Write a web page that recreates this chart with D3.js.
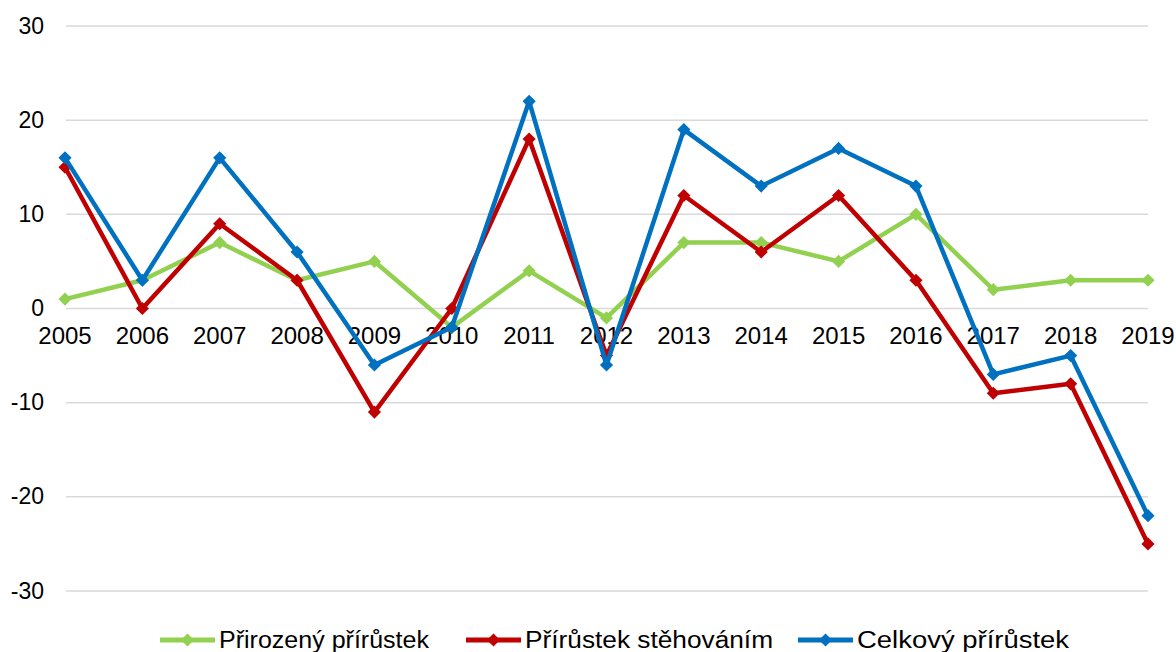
<!DOCTYPE html>
<html><head><meta charset="utf-8">
<script src="https://cdn.jsdelivr.net/npm/d3@7"></script>
<style>body{margin:0;background:#fff}svg{display:block}text{font-family:"Liberation Sans",Arial,sans-serif;fill:#000}</style>
</head><body><svg id="c" width="1176" height="652"></svg>
<script>
const years = ["2005","2006","2007","2008","2009","2010","2011","2012","2013","2014","2015","2016","2017","2018","2019"];
const prirozeny = [1,3,7,3,5,-2,4,-1,7,7,5,10,2,3,3];
const stehovanim = [15,0,9,3,-11,0,18,-5,12,6,12,3,-9,-8,-25];
const celkovy = [16,3,16,6,-6,-2,22,-6,19,13,17,13,-7,-5,-22];
const yTicks = [-30,-20,-10,0,10,20,30];
const seriesNames = ["Přirozený přírůstek","Přírůstek stěhováním","Celkový přírůstek"];
const colors = ["#92D050","#C00000","#0070C0"];

const svg = d3.select("#c");
const x = d3.scalePoint().domain(years).range([65,1148]);
const y = d3.scaleLinear().domain([-30,30]).range([591,26]);

// gridlines
svg.append("g").selectAll("line").data(yTicks).join("line")
  .attr("x1",66).attr("x2",1148)
  .attr("y1",d=>y(d)).attr("y2",d=>y(d))
  .attr("stroke","#D9D9D9").attr("stroke-width",1.5);

// y labels
svg.append("g").selectAll("text").data(yTicks).join("text")
  .attr("x",44).attr("y",d=>y(d)+7.5).attr("text-anchor","end")
  .attr("font-size",23).text(d=>d);

// x labels
svg.append("g").selectAll("text").data(years).join("text")
  .attr("x",d=>x(d)).attr("y",344).attr("text-anchor","middle")
  .attr("font-size",24).text(d=>d);

const data = [prirozeny, stehovanim, celkovy];
const line = d3.line().x((d,i)=>x(years[i])).y(d=>y(d));
const diamond = d3.symbol().type(d3.symbolDiamond2).size(110);

data.forEach((vals,k)=>{
  const g = svg.append("g");
  g.append("path").datum(vals).attr("d",line).attr("fill","none")
    .attr("stroke",colors[k]).attr("stroke-width",4.5).attr("stroke-linejoin","round");
  g.selectAll("path.m").data(vals).join("path").attr("class","m")
    .attr("transform",(d,i)=>`translate(${x(years[i])},${y(d)})`)
    .attr("d",diamond).attr("fill",colors[k]);
});

// legend
const legX = [160,466,798];
const legW = [210,248,212];
seriesNames.forEach((n,k)=>{
  const g = svg.append("g").attr("transform",`translate(${legX[k]},640)`);
  g.append("line").attr("x1",0).attr("x2",55).attr("y1",0).attr("y2",0)
    .attr("stroke",colors[k]).attr("stroke-width",5);
  g.append("path").attr("transform","translate(27.5,0)").attr("d",diamond).attr("fill",colors[k]);
  g.append("text").attr("x",59).attr("y",8).attr("font-size",23)
    .attr("textLength",legW[k]).attr("lengthAdjust","spacingAndGlyphs").text(n);
});
</script></body></html>
